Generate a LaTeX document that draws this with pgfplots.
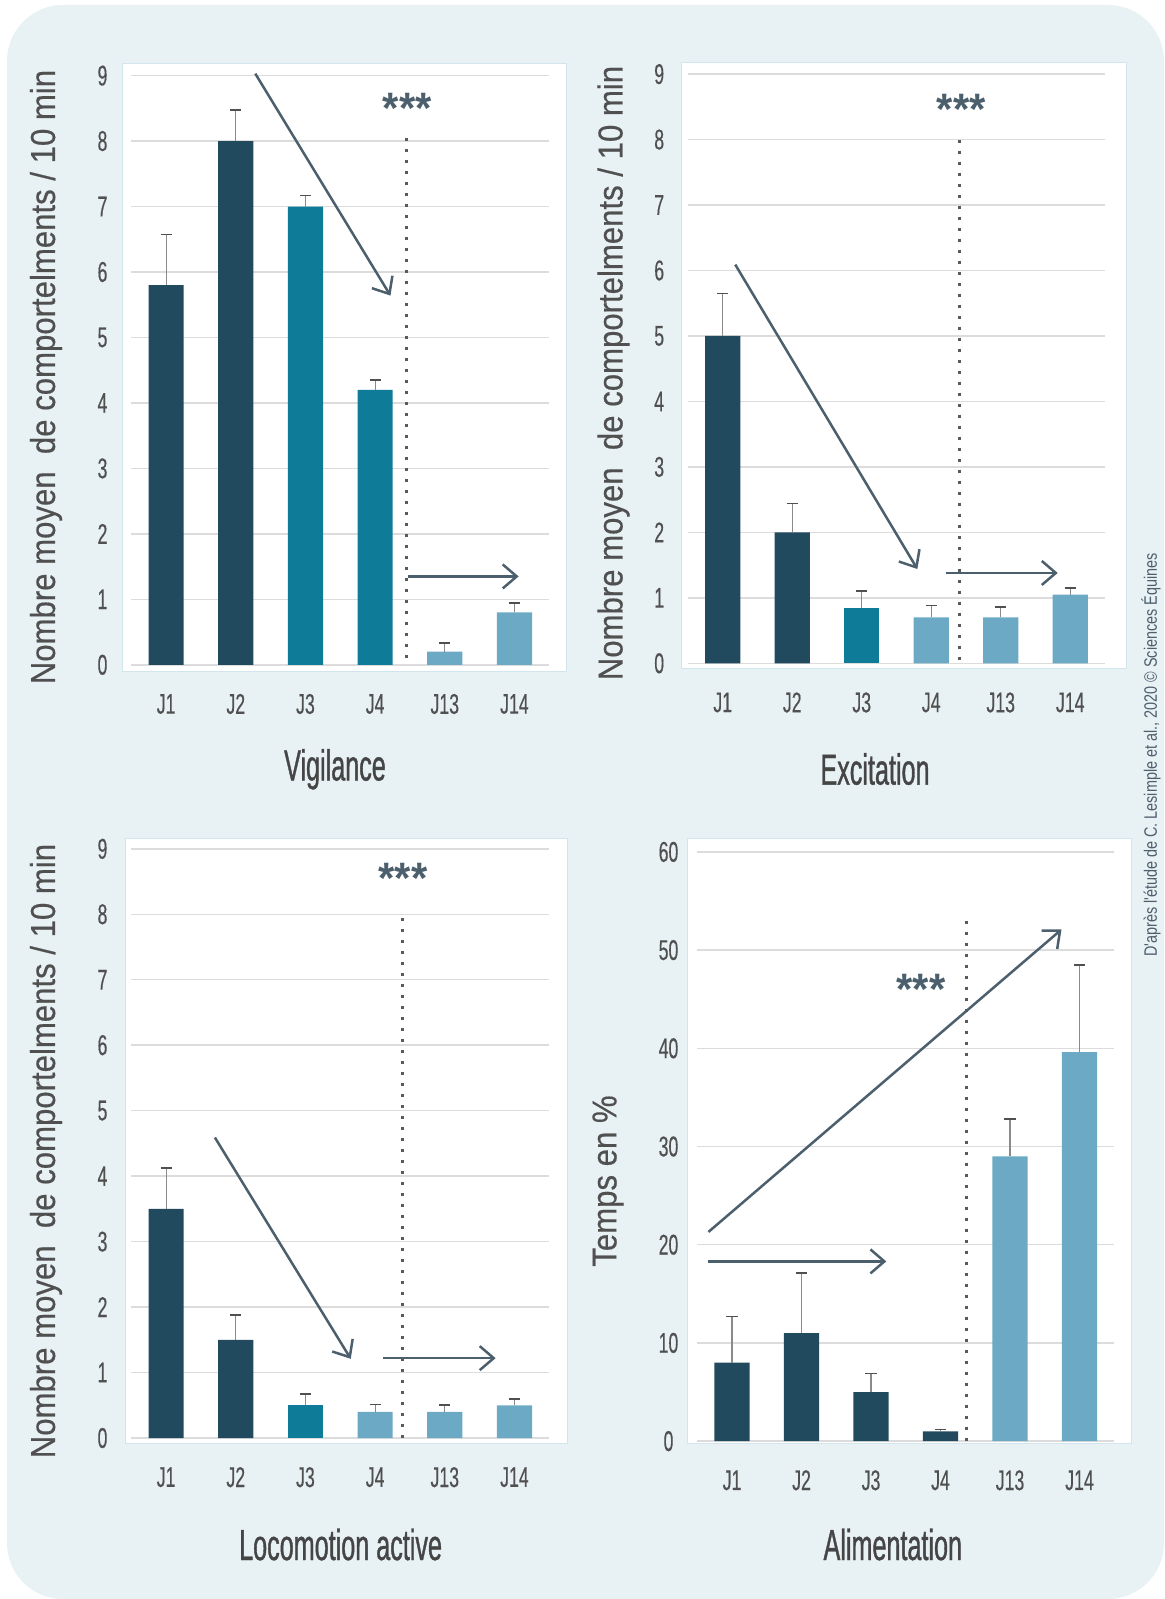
\documentclass[border=0pt]{standalone}
\usepackage{fontspec}
\setmainfont{Liberation Sans}[FakeStretch=0.62, FakeBold=0.3]
\newfontfamily\ylabfont{Liberation Sans}[FakeStretch=0.9, FakeBold=0.4]
\newfontfamily\titlefont{Liberation Sans}[FakeStretch=0.58, FakeBold=0.8]
\newfontfamily\copyfont{Liberation Sans}[FakeStretch=0.8]
\newfontfamily\starfont{Liberation Sans}[FakeStretch=0.95]
\usepackage{pgfplots}
\pgfplotsset{compat=1.18}
\usetikzlibrary{arrows.meta}
\definecolor{bgcol}{HTML}{E8F1F4}
\definecolor{boxline}{HTML}{D3E5EC}
\definecolor{cdark}{HTML}{224A5E}
\definecolor{cteal}{HTML}{0E7C99}
\definecolor{clight}{HTML}{6BA9C4}
\definecolor{gridcol}{HTML}{DCDCDC}
\definecolor{tickcol}{HTML}{505050}
\definecolor{titlecol}{HTML}{454545}
\definecolor{arrowcol}{HTML}{4C5F6D}
\definecolor{errcol}{HTML}{8A8A8A}
\definecolor{errcap}{HTML}{505050}
\definecolor{dotcol}{HTML}{5A5A5A}
\tikzset{
  arr/.style={draw=arrowcol, line width=1.25pt, -{Straight Barb[length=7pt, width=12pt, line width=1.25pt]}},
  dots/.style={draw=dotcol, line width=1.5pt, dash pattern=on 1.5pt off 4pt},
}
\pgfplotsset{
  mybar/.style={ybar, bar width=17.6pt, bar shift=0pt, draw=none, fill=#1,
    error bars/.cd, y dir=plus, y explicit,
    error bar style={line width=0.6pt, draw=errcol},
    error mark options={rotate=90, line width=0.8pt, draw=errcap, mark size=2.8pt}},
  panel/.style={scale only axis, width=209pt, height=294.6pt,
    xmin=-0.5, xmax=5.5, ymin=0,
    axis line style={draw=none}, tick style={draw=none},
    ymajorgrids, grid style={gridcol, line width=0.75pt},
    xtick={0,...,5}, xticklabels={J1,J2,J3,J4,J13,J14},
    tick label style={font=\fontsize{14.25}{17}\selectfont, text=tickcol},
    xticklabel style={anchor=center, yshift=-19.6pt},
    yticklabel style={anchor=center, xshift=-14.4pt},
    /pgf/number format/assume math mode=true,
    clip=false, anchor=south west},
}
\newcommand\stars{{\starfont\bfseries\fontsize{22}{24}\selectfont ***}}
\begin{document}
\begin{tikzpicture}
\useasboundingbox (0,0) rectangle (582pt,-799.5pt);
\fill[bgcol, rounded corners=28pt] (3.5pt,-2.5pt) rectangle (582pt,-799.5pt);
\filldraw[fill=white, draw=boxline, line width=0.5pt] (61.25pt,-32pt) rectangle (283pt,-335.5pt);
\filldraw[fill=white, draw=boxline, line width=0.5pt] (340.85pt,-31.1pt) rectangle (563.35pt,-334.2pt);
\filldraw[fill=white, draw=boxline, line width=0.5pt] (62.5pt,-419pt) rectangle (283.5pt,-721.5pt);
\filldraw[fill=white, draw=boxline, line width=0.5pt] (343.65pt,-419.1pt) rectangle (565.95pt,-721.8pt);

% Panel 1: Vigilance
\begin{axis}[panel, at={(65.65pt,-332.4pt)}, ymax=9, ytick={0,...,9}]
\addplot[mybar=cdark] coordinates {(0,5.8) +- (0,0.77) (1,8.0) +- (0,0.47)};
\addplot[mybar=cteal] coordinates {(2,7.0) +- (0,0.17) (3,4.2) +- (0,0.15)};
\addplot[mybar=clight] coordinates {(4,0.2) +- (0,0.13) (5,0.8) +- (0,0.14)};
\draw[dots] (axis cs:3.455,8.04) -- (axis cs:3.455,0);
\draw[arr] (axis cs:1.28,9.03) -- (axis cs:3.22,5.64);
\draw[arr] (axis cs:3.47,1.35) -- (axis cs:5.06,1.35);
\node[text=arrowcol] at (axis cs:3.46,8.50) {\stars};
\end{axis}

% Panel 2: Excitation
\begin{axis}[panel, width=208.5pt, at={(344pt,-331.65pt)}, ymax=9, ytick={0,...,9}]
\addplot[mybar=cdark] coordinates {(0,5.0) +- (0,0.65) (1,2.0) +- (0,0.44)};
\addplot[mybar=cteal] coordinates {(2,0.85) +- (0,0.25)};
\addplot[mybar=clight] coordinates {(3,0.7) +- (0,0.18) (4,0.7) +- (0,0.16) (5,1.05) +- (0,0.10)};
\draw[dots] (axis cs:3.40,8.0) -- (axis cs:3.40,0);
\draw[arr] (axis cs:0.18,6.09) -- (axis cs:2.80,1.44);
\draw[arr] (axis cs:3.21,1.38) -- (axis cs:4.82,1.38);
\node[text=arrowcol] at (axis cs:3.43,8.46) {\stars};
\end{axis}

% Panel 3: Locomotion active
\begin{axis}[panel, at={(65.65pt,-719pt)}, ymax=9, ytick={0,...,9}]
\addplot[mybar=cdark] coordinates {(0,3.5) +- (0,0.62) (1,1.5) +- (0,0.38)};
\addplot[mybar=cteal] coordinates {(2,0.5) +- (0,0.17)};
\addplot[mybar=clight] coordinates {(3,0.4) +- (0,0.11) (4,0.4) +- (0,0.10) (5,0.5) +- (0,0.10)};
\draw[dots] (axis cs:3.39,7.94) -- (axis cs:3.39,0);
\draw[arr] (axis cs:0.70,4.59) -- (axis cs:2.65,1.21);
\draw[arr] (axis cs:3.11,1.22) -- (axis cs:4.73,1.22);
\node[text=arrowcol] at (axis cs:3.40,8.55) {\stars};
\end{axis}

% Panel 4: Alimentation
\begin{axis}[panel, width=208.5pt, at={(348.65pt,-720.55pt)}, ymax=60, ytick={0,10,...,60}]
\addplot[mybar=cdark] coordinates {(0,8) +- (0,4.7) (1,11) +- (0,6.1) (2,5) +- (0,1.9) (3,1) +- (0,0.2)};
\addplot[mybar=clight] coordinates {(4,29) +- (0,3.8) (5,39.6) +- (0,8.9)};
\draw[dots] (axis cs:3.37,53.0) -- (axis cs:3.37,0);
\draw[arr] (axis cs:-0.34,21.3) -- (axis cs:4.74,52.1);
\draw[arr] (axis cs:-0.35,18.3) -- (axis cs:2.22,18.3);
\node[text=arrowcol] at (axis cs:2.72,46.0) {\stars};
\end{axis}

% axis labels
\begin{scope}[every node/.style={text=tickcol}]
\node[rotate=90, font=\ylabfont\fontsize{17.3}{19}\selectfont] at (23pt,-188.5pt) {Nombre moyen\ \ de comportelments / 10 min};
\node[rotate=90, font=\ylabfont\fontsize{17.3}{19}\selectfont] at (306.75pt,-186.5pt) {Nombre moyen\ \ de comportelments / 10 min};
\node[rotate=90, font=\ylabfont\fontsize{17.3}{19}\selectfont] at (23pt,-575.5pt) {Nombre moyen\ \ de comportelments / 10 min};
\node[rotate=90, font=\ylabfont\fontsize{17.3}{19}\selectfont] at (304pt,-590.5pt) {Temps en \%};
\end{scope}
\begin{scope}[every node/.style={text=titlecol, anchor=base, font=\titlefont\fontsize{21.7}{24}\selectfont}]
\node at (167.5pt,-390.25pt) {Vigilance};
\node at (437.5pt,-392.3pt) {Excitation};
\node at (170.3pt,-780pt) {Locomotion active};
\node at (446.4pt,-780pt) {Alimentation};
\end{scope}
\node[rotate=90, text=arrowcol, font=\copyfont\fontsize{9}{11}\selectfont] at (575.5pt,-377.5pt) {D'après l'étude de C. Lesimple et al., 2020 © Sciences Équines};
\end{tikzpicture}
\end{document}
